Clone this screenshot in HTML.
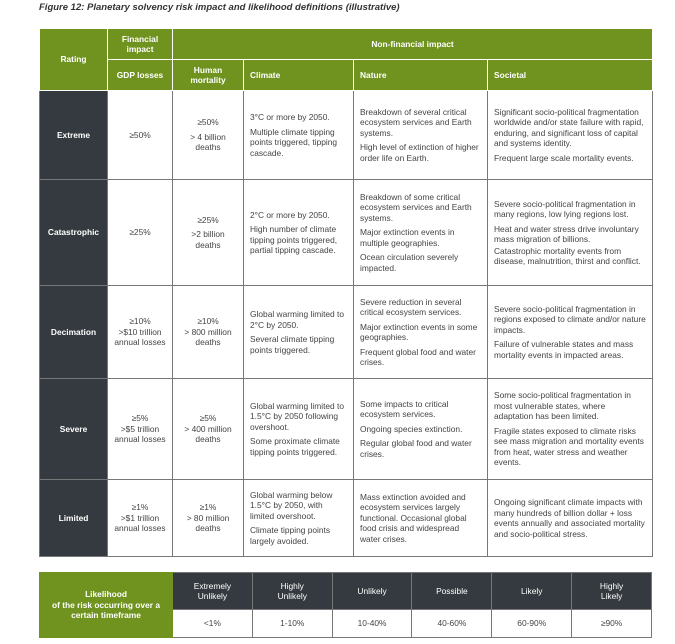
<!DOCTYPE html>
<html><head><style>
body{margin:0;width:675px;height:644px;background:#fff;font-family:"Liberation Sans",sans-serif;position:relative;overflow:hidden}
.t{position:absolute;left:39px;top:2px;font-size:9.5px;font-weight:bold;font-style:italic;color:#333}
table{position:absolute;border-collapse:collapse;table-layout:fixed}
td{padding:0 6px;font-size:8.4px;line-height:10.5px;color:#444;border:1.5px solid #777;vertical-align:middle}
td p{margin:0 0 4px}td p:last-child{margin:0}
.g{background:#6f931e;color:#fff;font-weight:bold;border-color:#fff}
.d{background:#343a3f;color:#fff;font-weight:bold;text-align:center;border-color:#777}
.c{text-align:center}
</style></head><body>
<div class="t">Figure 12: Planetary solvency risk impact and likelihood definitions (illustrative)</div>
<table style="left:39px;top:28px;width:613px">
<colgroup><col style="width:68px"><col style="width:65px"><col style="width:71px"><col style="width:110px"><col style="width:134px"><col style="width:165px"></colgroup>
<tr style="height:31px"><td class="g c" rowspan="2">Rating</td><td class="g c">Financial<br>impact</td><td class="g c" colspan="4">Non-financial impact</td></tr>
<tr style="height:31px"><td class="g c">GDP losses</td><td class="g c">Human<br>mortality</td><td class="g">Climate</td><td class="g">Nature</td><td class="g">Societal</td></tr>
<tr style="height:89px"><td class="d">Extreme</td><td class="c">≥50%</td><td class="c"><p>≥50%</p>&gt; 4 billion<br>deaths</td><td><p>3°C or more by 2050.</p><p>Multiple climate tipping points triggered, tipping cascade.</p></td><td><p>Breakdown of several critical ecosystem services and Earth systems.</p><p>High level of extinction of higher order life on Earth.</p></td><td><p>Significant socio-political fragmentation worldwide and/or state failure with rapid, enduring, and significant loss of capital and systems identity.</p><p>Frequent large scale mortality events.</p></td></tr>
<tr style="height:106px"><td class="d">Catastrophic</td><td class="c">≥25%</td><td class="c"><p>≥25%</p>&gt;2 billion<br>deaths</td><td><p>2°C or more by 2050.</p><p>High number of climate tipping points triggered, partial tipping cascade.</p></td><td><p>Breakdown of some critical ecosystem services and Earth systems.</p><p>Major extinction events in multiple geographies.</p><p>Ocean circulation severely impacted.</p></td><td><p>Severe socio-political fragmentation in many regions, low lying regions lost.</p><p>Heat and water stress drive involuntary mass migration of billions.</p><p style="margin-top:-3px">Catastrophic mortality events from disease, malnutrition, thirst and conflict.</p></td></tr>
<tr style="height:93px"><td class="d">Decimation</td><td class="c"><p>≥10%</p>&gt;$10 trillion annual losses</td><td class="c"><p>≥10%</p>&gt; 800 million deaths</td><td><p>Global warming limited to 2°C by 2050.</p><p>Several climate tipping points triggered.</p></td><td><p>Severe reduction in several critical ecosystem services.</p><p>Major extinction events in some geographies.</p><p>Frequent global food and water crises.</p></td><td><p>Severe socio-political fragmentation in regions exposed to climate and/or nature impacts.</p><p>Failure of vulnerable states and mass mortality events in impacted areas.</p></td></tr>
<tr style="height:101px"><td class="d">Severe</td><td class="c"><p>≥5%</p>&gt;$5 trillion annual losses</td><td class="c"><p>≥5%</p>&gt; 400 million deaths</td><td><p>Global warming limited to 1.5°C by 2050 following overshoot.</p><p>Some proximate climate tipping points triggered.</p></td><td><p>Some impacts to critical ecosystem services.</p><p>Ongoing species extinction.</p><p>Regular global food and water crises.</p></td><td><p>Some socio-political fragmentation in most vulnerable states, where adaptation has been limited.</p><p>Fragile states exposed to climate risks see mass migration and mortality events from heat, water stress and weather events.</p></td></tr>
<tr style="height:77px"><td class="d">Limited</td><td class="c"><p>≥1%</p>&gt;$1 trillion annual losses</td><td class="c"><p>≥1%</p>&gt; 80 million deaths</td><td><p>Global warming below 1.5°C by 2050, with limited overshoot.</p><p>Climate tipping points largely avoided.</p></td><td>Mass extinction avoided and ecosystem services largely functional. Occasional global food crisis and widespread water crises.</td><td>Ongoing significant climate impacts with many hundreds of billion dollar + loss events annually and associated mortality and socio-political stress.</td></tr>
</table>
<table style="left:39px;top:572px;width:613px">
<colgroup><col style="width:133px"><col><col><col><col><col><col></colgroup>
<tr style="height:37px"><td class="g c" rowspan="2" style="border-color:#6f931e">Likelihood<br>of the risk occurring over a certain timeframe</td><td class="d" style="font-weight:normal">Extremely<br>Unlikely</td><td class="d" style="font-weight:normal">Highly<br>Unlikely</td><td class="d" style="font-weight:normal">Unlikely</td><td class="d" style="font-weight:normal">Possible</td><td class="d" style="font-weight:normal">Likely</td><td class="d" style="font-weight:normal">Highly<br>Likely</td></tr>
<tr style="height:28px"><td class="c">&lt;1%</td><td class="c">1-10%</td><td class="c">10-40%</td><td class="c">40-60%</td><td class="c">60-90%</td><td class="c">≥90%</td></tr>
</table>
</body></html>
